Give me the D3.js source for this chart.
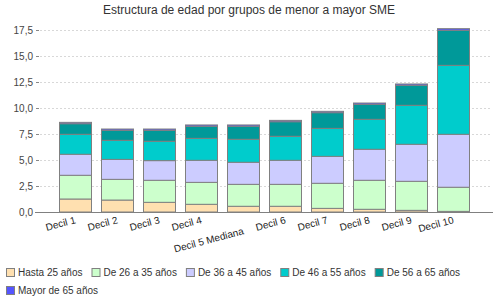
<!DOCTYPE html>
<html><head><meta charset="utf-8">
<script src="https://cdn.jsdelivr.net/npm/d3@7"></script>
<style>body{margin:0;background:#fff}svg{display:block}text{font-family:"Liberation Sans",Arial,sans-serif}</style>
</head><body><svg id="c" width="500" height="300"></svg>
<script>
const title = "Estructura de edad por grupos de menor a mayor SME";
const categories = ["Decil 1","Decil 2","Decil 3","Decil 4","Decil 5 Mediana","Decil 6","Decil 7","Decil 8","Decil 9","Decil 10"];
const seriesNames = ["Hasta 25 años","De 26 a 35 años","De 36 a 45 años","De 46 a 55 años","De 56 a 65 años","Mayor de 65 años"];
const hasta25  = [1.25,1.15,0.93,0.74,0.55,0.55,0.35,0.26,0.16,0.06];
const de26a35  = [2.28,1.99,2.12,2.11,2.11,2.11,2.41,2.79,2.79,2.32];
const de36a45  = [2.02,1.92,1.89,2.12,2.12,2.31,2.59,2.98,3.56,5.09];
const de46a55  = [1.92,1.83,1.86,2.11,2.21,2.31,2.69,2.88,3.75,6.63];
const de56a65  = [1.02,0.96,1.05,1.16,1.25,1.40,1.51,1.44,1.92,3.37];
const mayor65  = [0.13,0.13,0.13,0.13,0.13,0.13,0.13,0.13,0.13,0.16];
const yTicks = [0,2.5,5,7.5,10,12.5,15,17.5];
const colors = ["#FFE0B0","#CCFFCC","#CCCCFF","#00CCCC","#009999","#5555FF"];

const seriesValues = [hasta25,de26a35,de36a45,de46a55,de56a65,mayor65];
const rows = categories.map((c,i)=>{const r={cat:c};seriesNames.forEach((s,j)=>r[s]=seriesValues[j][i]);return r;});
const stack = d3.stack().keys(seriesNames)(rows);

const svg = d3.select("#c");
const x = d3.scaleBand().domain(categories).range([54.3,474.3]).paddingInner(10/42).paddingOuter(5/42);
const y = d3.scaleLinear().domain([0,17.5]).range([212,30]);

svg.append("text").attr("x",249).attr("y",14).attr("text-anchor","middle")
  .attr("font-size",12).attr("fill","#333").text(title);

// grid
svg.append("g").selectAll("line").data(yTicks.filter(d=>d>0)).join("line")
  .attr("x1",40).attr("x2",492).attr("y1",d=>Math.round(y(d))+0.5).attr("y2",d=>Math.round(y(d))+0.5)
  .attr("stroke","#d8d8d8").attr("stroke-dasharray","2,2");

// y axis
const ya = svg.append("g").attr("transform","translate(39,0)")
  .call(d3.axisLeft(y).tickValues(yTicks).tickSize(3).tickPadding(3)
    .tickFormat(d=>d3.format(".1f")(d).replace(".",",")));
ya.select(".domain").remove();
ya.selectAll(".tick line").attr("stroke","#888");
ya.selectAll(".tick text").attr("font-size",10).attr("fill","#444").attr("font-family","Liberation Sans, Arial, sans-serif");

// bars
svg.append("g").selectAll("g").data(stack).join("g").attr("fill",(d,i)=>colors[i])
  .selectAll("rect").data(d=>d).join("rect")
  .attr("x",d=>Math.round(x(d.data.cat))+0.5).attr("width",Math.round(x.bandwidth()))
  .attr("y",d=>y(d[1])).attr("height",d=>y(d[0])-y(d[1]))
  .attr("stroke","#808080").attr("stroke-width",1);

// x axis line
svg.append("line").attr("x1",35).attr("x2",493).attr("y1",212.5).attr("y2",212.5).attr("stroke","#808080");

// x labels
svg.append("g").selectAll("text").data(categories).join("text")
  .attr("transform",(d)=>{const cx=x(d)+x.bandwidth()/2+1; const yy=223+(d.length>10?11:0); return `translate(${cx},${yy}) rotate(-15)`;})
  .attr("text-anchor","end").attr("font-size",10).attr("fill","#222").text(d=>d);

// legend
const lg = svg.append("g");
let lx=6, ly=268;
seriesNames.forEach((s,i)=>{
  const g = lg.append("g");
  const t = g.append("text").attr("font-size",10).attr("fill","#333").text(s);
  const w = t.node().getComputedTextLength();
  if (lx + 12 + w > 495) { lx = 6; ly += 18; }
  g.append("rect").attr("x",lx+0.5).attr("y",ly+0.5).attr("width",8).attr("height",8)
    .attr("fill",colors[i]).attr("stroke","#808080");
  t.attr("x",lx+12).attr("y",ly+8);
  lx += 12 + w + 9;
});
</script></body></html>
